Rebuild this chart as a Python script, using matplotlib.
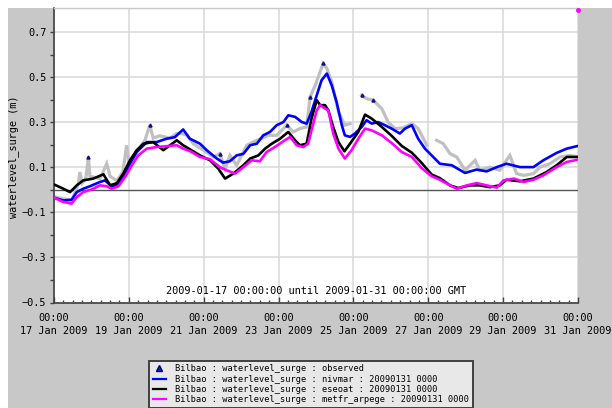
import numpy as np
import matplotlib
matplotlib.use("Agg")
import matplotlib.pyplot as plt
import matplotlib.dates as mdates
from matplotlib.patches import Rectangle
from matplotlib.lines import Line2D

# ---- data: time offsets in days from 2009-01-17 00:00 GMT, surge in metres ----
obs_days = [0.00, 0.24, 0.48, 0.65, 0.69, 0.75, 0.85, 0.92, 0.96, 1.23, 1.41, 1.50,
            1.68, 1.84, 1.94, 2.00, 2.21, 2.43, 2.56, 2.65, 2.83, 3.10, 3.28, 3.41,
            3.55, 3.72, 3.99, 4.26, 4.43, 4.57, 4.70, 4.88, 5.15, 5.42, 5.73, 5.95,
            6.22, 6.39, 6.57, 6.75, 6.84, 6.98, 7.19, 7.29, 7.42, 7.60, 7.77, 7.91,
            8.04, 8.22, 8.35, 8.53, 8.76, 8.93, 9.11, 9.32, 9.56, 9.73, 9.96, 10.05,
            10.22, 10.40, 10.58, 10.76, 10.98, 11.25, 11.38, 11.64, 11.91, 12.18,
            12.36, 12.55, 12.81, 12.99, 13.25, 13.52, 13.79, 14.00]
obs_vals = [-0.030, -0.040, -0.045, 0.027, 0.079, 0.030, 0.050, 0.146, 0.060, 0.050,
            0.116, 0.060, 0.040, 0.080, 0.198, 0.120, 0.170, 0.220, 0.287, 0.230,
            0.240, 0.230, 0.250, 0.250, 0.242, 0.205, 0.176, 0.146, 0.161, 0.094,
            0.153, 0.109, 0.198, 0.220, 0.242, 0.242, 0.287, 0.257, 0.272, 0.279,
            0.412, 0.464, 0.561, 0.539, 0.479, 0.346, 0.287, 0.294, np.nan, 0.420,
            0.405, 0.398, 0.360, 0.300, 0.272, 0.275, 0.294, 0.272, 0.198, np.nan,
            0.220, 0.205, 0.161, 0.146, 0.087, 0.131, 0.087, 0.101, 0.087, 0.153,
            0.072, 0.064, 0.072, 0.101, 0.116, 0.146, 0.153, 0.146]
obs_marked = [7, 18, 28, 36, 40, 42, 49, 51]

nivmar_days = [0.00, 0.25, 0.47, 0.61, 0.78, 0.96, 1.23, 1.36, 1.54, 1.68, 1.85, 2.03,
               2.21, 2.48, 2.74, 3.01, 3.23, 3.45, 3.63, 3.90, 4.08, 4.35, 4.52, 4.70,
               4.88, 5.06, 5.24, 5.42, 5.59, 5.77, 5.95, 6.13, 6.26, 6.44, 6.62, 6.75,
               6.88, 7.02, 7.15, 7.29, 7.42, 7.55, 7.69, 7.77, 7.91, 8.04, 8.22, 8.35,
               8.49, 8.66, 8.84, 9.02, 9.24, 9.38, 9.56, 9.73, 9.91, 10.09, 10.31,
               10.63, 10.98, 11.29, 11.56, 11.83, 12.09, 12.45, 12.81, 13.07, 13.43,
               13.70, 14.00]
nivmar_vals = [-0.035, -0.047, -0.044, -0.010, 0.005, 0.016, 0.035, 0.042, 0.016,
               0.020, 0.057, 0.116, 0.168, 0.212, 0.212, 0.227, 0.234, 0.268, 0.227,
               0.205, 0.176, 0.139, 0.121, 0.127, 0.153, 0.160, 0.198, 0.205, 0.242,
               0.257, 0.287, 0.301, 0.331, 0.324, 0.301, 0.294, 0.346, 0.420, 0.487,
               0.516, 0.464, 0.390, 0.287, 0.242, 0.235, 0.250, 0.279, 0.309, 0.294,
               0.301, 0.287, 0.272, 0.250, 0.272, 0.287, 0.227, 0.183, 0.153, 0.116,
               0.109, 0.075, 0.090, 0.082, 0.101, 0.116, 0.101, 0.101, 0.131, 0.164,
               0.183, 0.195]

eseoat_days = [0.00, 0.25, 0.43, 0.61, 0.78, 1.05, 1.32, 1.50, 1.68, 1.85, 2.03, 2.21,
               2.39, 2.65, 2.92, 3.10, 3.28, 3.45, 3.63, 3.90, 4.17, 4.39, 4.57, 4.79,
               5.06, 5.24, 5.46, 5.64, 5.82, 6.04, 6.26, 6.44, 6.57, 6.75, 6.88, 7.02,
               7.11, 7.24, 7.33, 7.46, 7.60, 7.76, 7.91, 8.13, 8.31, 8.49, 8.76, 9.02,
               9.29, 9.56, 9.82, 10.09, 10.31, 10.58, 10.80, 11.11, 11.38, 11.64,
               11.91, 12.09, 12.45, 12.81, 13.16, 13.43, 13.70, 14.00]
eseoat_vals = [0.024, 0.005, -0.010, 0.020, 0.042, 0.050, 0.069, 0.020, 0.030, 0.072,
               0.131, 0.176, 0.205, 0.212, 0.176, 0.198, 0.220, 0.198, 0.180, 0.153,
               0.131, 0.094, 0.050, 0.072, 0.109, 0.139, 0.153, 0.183, 0.205, 0.227,
               0.257, 0.220, 0.198, 0.205, 0.316, 0.398, 0.376, 0.376, 0.353, 0.279,
               0.212, 0.171, 0.205, 0.257, 0.334, 0.316, 0.279, 0.240, 0.195, 0.165,
               0.120, 0.068, 0.052, 0.020, 0.008, 0.020, 0.020, 0.012, 0.020, 0.045,
               0.038, 0.050, 0.079, 0.109, 0.146, 0.146]

arpege_days = [0.00, 0.25, 0.47, 0.61, 0.78, 1.01, 1.23, 1.41, 1.54, 1.72, 1.90, 2.08,
               2.25, 2.48, 2.74, 3.01, 3.28, 3.45, 3.63, 3.90, 4.17, 4.43, 4.61, 4.84,
               5.06, 5.28, 5.50, 5.68, 5.90, 6.13, 6.31, 6.48, 6.66, 6.79, 6.88, 7.02,
               7.11, 7.24, 7.33, 7.46, 7.60, 7.77, 7.95, 8.13, 8.31, 8.49, 8.76, 9.02,
               9.29, 9.56, 9.82, 10.09, 10.31, 10.58, 10.76, 11.03, 11.29, 11.56,
               11.83, 12.01, 12.29, 12.55, 12.81, 13.07, 13.43, 13.70, 14.00]
arpege_vals = [-0.035, -0.054, -0.061, -0.032, -0.010, 0.002, 0.020, 0.016, 0.005,
               0.016, 0.057, 0.109, 0.153, 0.183, 0.190, 0.194, 0.198, 0.183, 0.172,
               0.146, 0.136, 0.101, 0.087, 0.072, 0.101, 0.131, 0.127, 0.168, 0.190,
               0.216, 0.235, 0.198, 0.190, 0.205, 0.264, 0.353, 0.376, 0.361, 0.353,
               0.250, 0.183, 0.139, 0.176, 0.227, 0.272, 0.264, 0.242, 0.208, 0.168,
               0.146, 0.097, 0.060, 0.045, 0.020, 0.005, 0.020, 0.030, 0.020, 0.010,
               0.042, 0.050, 0.035, 0.045, 0.064, 0.101, 0.124, 0.134]
arpege_flag_days = [14.0]
arpege_flag_vals = [0.80]

legend_labels = [
    "Bilbao : waterlevel_surge : observed",
    "Bilbao : waterlevel_surge : nivmar : 20090131 0000",
    "Bilbao : waterlevel_surge : eseoat : 20090131 0000",
    "Bilbao : waterlevel_surge : metfr_arpege : 20090131 0000",
]
period_text = "2009-01-17 00:00:00 until 2009-01-31 00:00:00 GMT"
y_label = "waterlevel_surge (m)"

START = np.datetime64("2009-01-17T00:00")


def to_time(days):
    mins = np.round(np.asarray(days, dtype=float) * 24 * 60).astype("int64")
    return START + mins.astype("timedelta64[m]")


MONO = "DejaVu Sans Mono"
W, H = 612, 408

fig = plt.figure(figsize=(W / 100, H / 100), dpi=100)
fig.patch.set_facecolor("white")
fig.add_artist(Rectangle((8 / W, 0), 1, (H - 8) / H, transform=fig.transFigure,
                         facecolor="#c8c8c8", edgecolor="none", zorder=0))

ax = fig.add_axes([54 / W, (H - 302.5) / H, (578 - 54) / W, (302.5 - 8.5) / H])
ax.set_facecolor("white")

# series
ax.plot(to_time(obs_days), obs_vals, color="#c0c0c0", lw=2.3, zorder=2,
        solid_joinstyle="miter")
ax.plot(to_time(obs_days), obs_vals, ls="none", marker="^", ms=2.2,
        color="#101080", markevery=obs_marked, zorder=6)
ax.plot(to_time(nivmar_days), nivmar_vals, color="#0000ff", lw=1.9, zorder=3)
ax.plot(to_time(eseoat_days), eseoat_vals, color="#000000", lw=1.9, zorder=4)
ax.plot(to_time(arpege_days), arpege_vals, color="#ff00ff", lw=1.9, zorder=5)
ax.plot(to_time(arpege_flag_days), arpege_flag_vals, ls="none", marker="o", ms=2.5,
        color="#ff00ff", clip_on=False, zorder=7)

ax.axhline(0, color="#555555", lw=1.0, zorder=1.5)

# axes limits and ticks
ax.set_xlim(to_time([0])[0], to_time([14])[0])
ax.set_ylim(-0.5, 0.805)

ax.xaxis.set_major_locator(mdates.DayLocator(bymonthday=[17, 19, 21, 23, 25, 27, 29, 31]))
ax.xaxis.set_minor_locator(mdates.HourLocator(byhour=[0, 6, 12, 18]))
ax.xaxis.set_major_formatter(mdates.DateFormatter("%H:%M\n%d Jan %Y"))

ax.set_yticks([-0.5, -0.3, -0.1, 0.1, 0.3, 0.5, 0.7])
ax.set_yticks([-0.4, -0.2, 0.0, 0.2, 0.4, 0.6], minor=True)
ax.yaxis.set_major_formatter(matplotlib.ticker.FuncFormatter(
    lambda v, p: ("%.1f" % v).replace("-", "\u2212")))

ax.tick_params(axis="x", which="major", direction="in", length=4.5, width=1,
               color="#404040", pad=7.5, labelsize=7.4)
ax.tick_params(axis="x", which="minor", direction="in", length=2.5, width=1,
               color="#404040")
ax.tick_params(axis="y", which="both", direction="out", length=3, width=1,
               color="#404040", pad=2.5, labelsize=7.4)
for lab in ax.get_xticklabels() + ax.get_yticklabels():
    lab.set_fontfamily(MONO)
for lab in ax.get_xticklabels():
    lab.set_linespacing(1.4)

ax.grid(True, which="major", color="#d8d8d8", lw=1.1, zorder=0)
ax.set_axisbelow(True)

for side in ("left", "bottom"):
    ax.spines[side].set_color("#404040")
    ax.spines[side].set_linewidth(1.2)
ax.spines["top"].set_color("#c8c8c8")
ax.spines["top"].set_linewidth(1.0)
ax.spines["right"].set_visible(False)

ax.text(0.5, 0.04, period_text, transform=ax.transAxes, ha="center", va="center",
        fontsize=7.4, family=MONO)

fig.text(14 / W, 1 - 157 / H, y_label, rotation=90, ha="center", va="center",
         fontsize=7.4, family=MONO)

# legend
handles = [
    Line2D([], [], ls="none", marker="^", ms=5, color="#1a1ad0", mec="#000070"),
    Line2D([], [], color="#0000ff", lw=1.6),
    Line2D([], [], color="#000000", lw=1.6),
    Line2D([], [], color="#ff00ff", lw=1.6),
]
leg = fig.legend(handles, legend_labels, loc="upper left",
                 bbox_to_anchor=(149 / W, 1 - 360.5 / H), bbox_transform=fig.transFigure,
                 prop={"family": MONO, "size": 6.2}, frameon=True, fancybox=False,
                 facecolor="#e8e8e8", edgecolor="#404040", framealpha=1,
                 borderpad=0.45, labelspacing=0.15, handlelength=1.5,
                 handletextpad=1.1, borderaxespad=0)
leg.get_frame().set_linewidth(1.4)

fig.savefig("out.png", dpi=100, facecolor=fig.get_facecolor())
